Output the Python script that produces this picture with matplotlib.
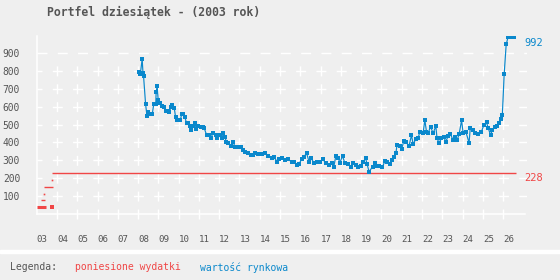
import matplotlib
matplotlib.use("Agg")
import matplotlib.pyplot as plt
from matplotlib.patches import Rectangle

plt.rcParams['font.family'] = ['DejaVu Sans Mono', 'DejaVu Sans']
plt.rcParams['lines.scale_dashes'] = False

# ---------------- data ----------------
title = "Portfel dziesiątek - (2003 rok)"
year_ticks = list(range(2003, 2027))
year_labels = [f"{y % 100:02d}" for y in year_ticks]
value_ticks = list(range(100, 1000, 100))

market_years = [
    2008.06, 2008.11, 2008.20, 2008.24, 2008.27, 2008.37, 2008.44, 2008.50, 2008.60, 2008.70,
    2008.77, 2008.87, 2008.89, 2008.94, 2008.99, 2009.09, 2009.19, 2009.29, 2009.36, 2009.46,
    2009.54, 2009.62, 2009.68, 2009.78, 2009.85, 2009.93, 2010.08, 2010.15, 2010.23, 2010.31,
    2010.39, 2010.47, 2010.54, 2010.62, 2010.70, 2010.79, 2010.87, 2010.96, 2011.08, 2011.18,
    2011.26, 2011.38, 2011.48, 2011.59, 2011.69, 2011.82, 2011.90, 2012.03, 2012.13, 2012.21,
    2012.28, 2012.35, 2012.44, 2012.56, 2012.69, 2012.77, 2012.92, 2013.05, 2013.15, 2013.27,
    2013.40, 2013.55, 2013.65, 2013.76, 2013.92, 2014.09, 2014.25, 2014.41, 2014.58, 2014.70,
    2014.86, 2014.96, 2015.10, 2015.24, 2015.40, 2015.57, 2015.68, 2015.84, 2015.94, 2016.06,
    2016.17, 2016.31, 2016.43, 2016.55, 2016.67, 2016.83, 2016.96, 2017.12, 2017.26, 2017.42,
    2017.54, 2017.65, 2017.75, 2017.86, 2017.95, 2018.08, 2018.20, 2018.36, 2018.48, 2018.60,
    2018.74, 2018.85, 2018.97, 2019.10, 2019.22, 2019.29, 2019.39, 2019.56, 2019.67, 2019.76,
    2019.89, 2020.05, 2020.17, 2020.28, 2020.41, 2020.50, 2020.61, 2020.71, 2020.77, 2020.91,
    2020.99, 2021.10, 2021.22, 2021.36, 2021.48, 2021.56, 2021.69, 2021.81, 2021.89, 2022.05,
    2022.14, 2022.22, 2022.31, 2022.42, 2022.55, 2022.68, 2022.74, 2022.84, 2022.96, 2023.07,
    2023.17, 2023.29, 2023.40, 2023.53, 2023.62, 2023.73, 2023.83, 2023.95, 2024.03, 2024.16,
    2024.32, 2024.38, 2024.49, 2024.60, 2024.76, 2024.93, 2025.05, 2025.18, 2025.26, 2025.38,
    2025.47, 2025.59, 2025.70, 2025.80, 2025.88, 2025.96, 2026.05, 2026.15, 2026.25, 2026.36,
    2026.46, 2026.52,
]
market_values = [
    795, 782, 866, 790, 769, 613, 547, 571, 560, 560,
    613, 613, 683, 715, 637, 620, 605, 600, 574, 574,
    568, 600, 609, 595, 540, 525, 525, 557, 557, 540,
    507, 507, 492, 469, 492, 511, 476, 490, 484, 484,
    480, 441, 441, 423, 454, 441, 423, 441, 425, 451,
    430, 404, 398, 380, 404, 376, 376, 376, 358, 348,
    339, 330, 330, 342, 335, 338, 342, 326, 315, 318,
    292, 305, 315, 303, 305, 292, 292, 274, 281, 305,
    320, 339, 292, 311, 283, 292, 292, 305, 283, 274,
    283, 264, 324, 315, 287, 324, 283, 279, 264, 283,
    274, 261, 270, 292, 311, 279, 236, 264, 283, 268,
    268, 261, 298, 292, 279, 303, 320, 339, 388, 382,
    361, 407, 400, 380, 441, 391, 417, 423, 460, 451,
    525, 460, 455, 488, 451, 492, 423, 398, 423, 432,
    404, 436, 447, 413, 432, 413, 447, 523, 451, 460,
    398, 482, 469, 451, 445, 460, 497, 512, 482, 441,
    470, 488, 493, 507, 529, 553, 780, 948, 992, 987,
    988, 992,
]

# poniesione wydatki: step levels (start, end, value)
cost_start = [2003.00, 2003.21, 2003.36, 2003.77]
cost_end = [2003.44, 2003.41, 2003.80, 2026.62]
cost_level = [37, 77, 149, 228]
cost_dot_years = [2003.36, 2003.77]
cost_dot_values = [110, 188]
cost_sq_years = [2003.76]
cost_sq_values = [41]

last_market = 992
last_cost = 228

# ---------------- style ----------------
BG = '#efefef'
BLUE = '#0a88cc'
RED = '#f04646'
GREY = '#555555'

fig = plt.figure(figsize=(5.6, 2.8), dpi=100, facecolor=BG)
ax = fig.add_axes([36.7 / 560, 66 / 280, 490.3 / 560, 178 / 280])
ax.set_facecolor(BG)
ax.set_xlim(2003, 2003 + 490.3 / 20.28)
ax.set_ylim(0, 995)

# grid: horizontal dashed rows
px = 0.72  # points per pixel
for v in value_ticks:
    if v == 900:
        ls = (0, (10 * px, 10.28 * px))
    else:
        ls = (5 * px, (10 * px, 10.28 * px))
    ax.plot([2003, ax.get_xlim()[1]], [v, v], color='white', lw=1.0,
            linestyle=ls, zorder=1, solid_capstyle='butt', dash_capstyle='butt')
# vertical dashed columns
for y in year_ticks[1:]:
    ax.plot([y, y], [-28, 850], color='white', lw=1.0,
            linestyle=(0, (10 * px, 7.89 * px)), zorder=1, clip_on=False,
            dash_capstyle='butt')

for s in ['top', 'right']:
    ax.spines[s].set_visible(False)
for s in ['left', 'bottom']:
    ax.spines[s].set_color('white')
    ax.spines[s].set_linewidth(1.1)
ax.spines['bottom'].set_bounds(2003, 2003 + 488 / 20.28)

# y tick labels
ax.set_yticks(value_ticks)
ax.set_yticklabels([str(v) for v in value_ticks])
ax.tick_params(axis='y', length=0, pad=12, labelcolor=GREY, labelsize=6.9)
ax.set_xticks([])

# x labels (left aligned at gridline)
for y, lab in zip(year_ticks, year_labels):
    ax.text(y, -25.3 / 178, lab, transform=ax.get_xaxis_transform(),
            ha='left', va='center', fontsize=6.6, color=GREY)

# cost series
for i, (a, b, v) in enumerate(zip(cost_start, cost_end, cost_level)):
    ax.plot([a, b], [v, v], color=RED, lw=2.2 if i == 0 else 1.0,
            solid_capstyle='butt', zorder=3, snap=True)
ax.plot(cost_dot_years, cost_dot_values, 's', color=RED, ms=1.2, mew=0, zorder=3)
ax.plot(cost_sq_years, cost_sq_values, 's', color=RED, ms=2.8, mew=0, zorder=3)

# market series
ax.plot(market_years, market_values, color=BLUE, lw=0.85, marker='s', ms=2.6,
        mew=0, zorder=4)

# end labels
ax.text(2027.03, last_market - 8, str(last_market), ha='left', va='top',
        color=BLUE, fontsize=7.5, clip_on=False)
ax.text(2027.03, last_cost, str(last_cost), ha='left', va='top',
        color=RED, fontsize=7.5, clip_on=False)

# title
fig.text(153.8 / 560, 1 - 12 / 280, title, ha='center', va='center',
         fontsize=8.3, fontweight='bold', color=GREY)

# legend band
fig.patches.append(Rectangle((0, 1 - 253.3 / 280), 1, 3.3 / 280,
                             transform=fig.transFigure, color='white', zorder=0))
ly = 1 - 267.3 / 280
fig.text(10 / 560, ly, "Legenda:", ha='left', va='center', fontsize=7, color=GREY)
fig.text(74.7 / 560, ly, "poniesione wydatki", ha='left', va='center', fontsize=7, color=RED)
fig.text(200 / 560, ly, "wartość rynkowa", ha='left', va='center', fontsize=7, color=BLUE)

fig.savefig('out.png', dpi=100, facecolor=BG)
